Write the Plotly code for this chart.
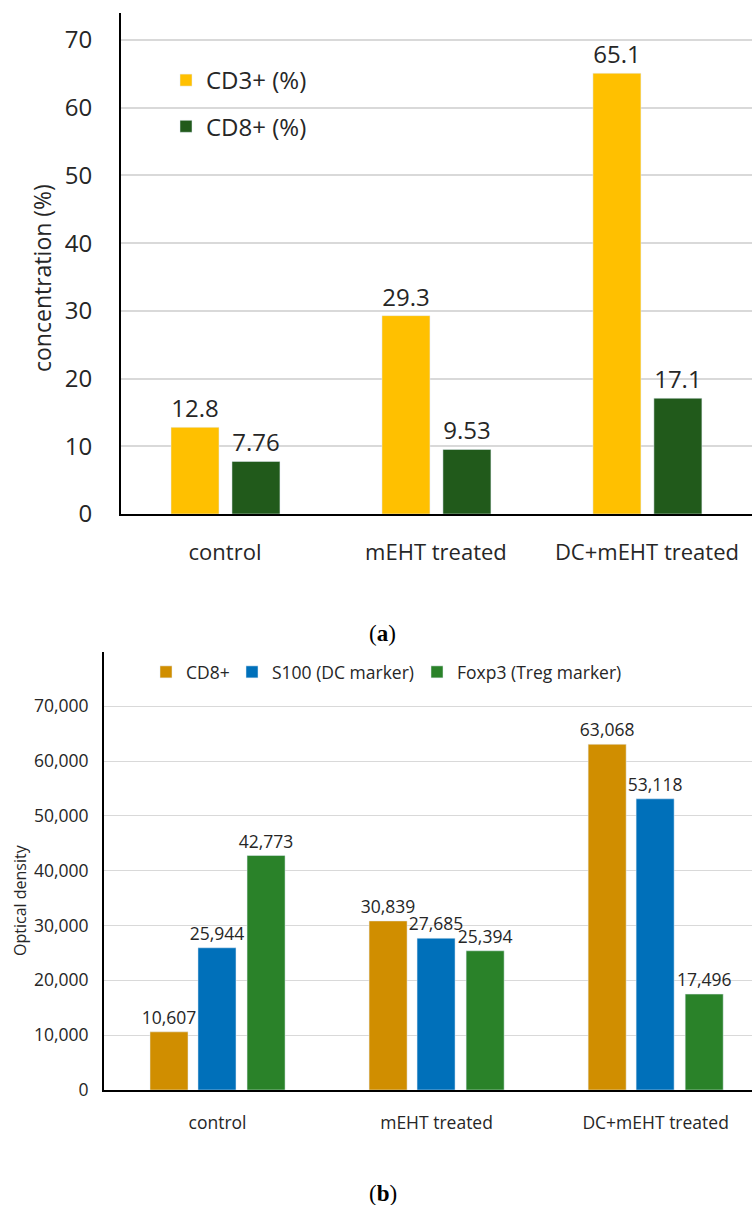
import plotly.graph_objects as go

# ---------------- data ----------------
categories = ["control", "mEHT treated", "DC+mEHT treated"]

# panel (a)
cd3_pct = [12.8, 29.3, 65.1]
cd8_pct = [7.76, 9.53, 17.1]

# panel (b)
cd8_od = [10607, 30839, 63068]
s100_od = [25944, 27685, 53118]
foxp3_od = [42773, 25394, 17496]

W, H = 755, 1205
FONT = "Open Sans"
TXT = "#262626"

def px_x(p):
    return p / W

def px_y(p):
    return 1 - p / H

fig = go.Figure()

# ---- panel (a) ----
fig.add_trace(go.Bar(
    x=categories, y=cd3_pct, name="CD3+ (%)",
    marker=dict(color="#FFC000"),
    width=0.2275, offset=-0.256,
    texttemplate="%{y}", textposition="outside", constraintext="none",
    textfont=dict(size=24, color=TXT, family=FONT),
    cliponaxis=False, xaxis="x", yaxis="y",
    legend="legend", legendgroup="a1",
))
fig.add_trace(go.Bar(
    x=categories, y=cd8_pct, name="CD8+ (%)",
    marker=dict(color="#215A1B"),
    width=0.2275, offset=0.033,
    texttemplate="%{y}", textposition="outside", constraintext="none",
    textfont=dict(size=24, color=TXT, family=FONT),
    cliponaxis=False, xaxis="x", yaxis="y",
    legend="legend", legendgroup="a2",
))

# ---- panel (b) ----
for vals, name, col, off, lg in [
    (cd8_od, "CD8+", "#D08E00", -0.308, "legend2"),
    (s100_od, "S100 (DC marker)", "#0070BA", -0.089, "legend3"),
    (foxp3_od, "Foxp3 (Treg marker)", "#2A8229", 0.135, "legend4"),
]:
    fig.add_trace(go.Bar(
        x=categories, y=vals, name=name,
        marker=dict(color=col),
        width=0.1735, offset=off,
        texttemplate="%{y:,}", textposition="outside", constraintext="none",
        textfont=dict(size=17.5, color=TXT, family=FONT),
        cliponaxis=False, xaxis="x2", yaxis="y2",
        legend=lg,
    ))

leg_common = dict(bgcolor="rgba(0,0,0,0)", borderwidth=0)

fig.update_layout(
    width=W, height=H,
    margin=dict(l=0, r=0, t=0, b=0, autoexpand=False),
    paper_bgcolor="white", plot_bgcolor="white",
    font=dict(family=FONT, color=TXT),
    barmode="overlay",
    xaxis=dict(
        domain=[px_x(121), px_x(752)], anchor="y", automargin=False,
        range=[-0.493, 2.498], type="category",
        showline=True, linecolor="black", linewidth=2,
        showgrid=False, ticks="", ticklabelstandoff=18,
        tickfont=dict(size=22, color=TXT, family=FONT),
    ),
    yaxis=dict(
        domain=[px_y(514), px_y(13)], anchor="x", automargin=False,
        range=[0, 74], dtick=10, tick0=0,
        showline=True, linecolor="black", linewidth=2,
        showgrid=True, gridcolor="#D9D9D9", gridwidth=1.5,
        zeroline=False, ticks="", ticklabelstandoff=22,
        tickfont=dict(size=24, color=TXT, family=FONT),
    ),
    xaxis2=dict(
        domain=[px_x(104), px_x(752)], anchor="y2", automargin=False,
        range=[-0.518, 2.44], type="category",
        showline=True, linecolor="black", linewidth=2,
        showgrid=False, ticks="", ticklabelstandoff=16,
        tickfont=dict(size=17.5, color=TXT, family=FONT),
    ),
    yaxis2=dict(
        domain=[px_y(1090), px_y(652)], anchor="x2", automargin=False,
        range=[0, 79900], dtick=10000, tick0=0,
        tickformat=",d",
        showline=True, linecolor="black", linewidth=2,
        showgrid=True, gridcolor="#D9D9D9", gridwidth=1.2,
        zeroline=False, ticks="", ticklabelstandoff=10,
        tickfont=dict(size=17.5, color=TXT, family=FONT),
    ),
    legend=dict(
        x=px_x(166), y=px_y(58), xanchor="left", yanchor="top",
        orientation="v", tracegroupgap=12, traceorder="grouped",
        font=dict(size=24, color=TXT, family=FONT), **leg_common,
    ),
    legend2=dict(
        x=px_x(146), y=px_y(672), xanchor="left", yanchor="middle",
        orientation="h", font=dict(size=17.5, color=TXT, family=FONT), **leg_common,
    ),
    legend3=dict(
        x=px_x(232), y=px_y(672), xanchor="left", yanchor="middle",
        orientation="h", font=dict(size=17.5, color=TXT, family=FONT), **leg_common,
    ),
    legend4=dict(
        x=px_x(417), y=px_y(672), xanchor="left", yanchor="middle",
        orientation="h", font=dict(size=17.5, color=TXT, family=FONT), **leg_common,
    ),
    annotations=[
        dict(text="concentration (%)", textangle=-90, x=px_x(42), y=px_y(278),
             xref="paper", yref="paper", showarrow=False,
             xanchor="center", yanchor="middle",
             font=dict(size=23, color=TXT, family=FONT)),
        dict(text="Optical density", textangle=-90, x=px_x(20), y=px_y(900),
             xref="paper", yref="paper", showarrow=False,
             xanchor="center", yanchor="middle",
             font=dict(size=16, color=TXT, family=FONT)),
        dict(text="(<b>a</b>)", x=px_x(383), y=px_y(633),
             xref="paper", yref="paper", showarrow=False,
             xanchor="center", yanchor="middle",
             font=dict(size=23, color="black", family="Liberation Serif")),
        dict(text="(<b>b</b>)", x=px_x(383), y=px_y(1193),
             xref="paper", yref="paper", showarrow=False,
             xanchor="center", yanchor="middle",
             font=dict(size=23, color="black", family="Liberation Serif")),
    ],
)

fig.write_html(
    "out.html",
    config={"displayModeBar": False},
    post_script="document.body.style.margin='0px';document.body.style.padding='0px';",
)
